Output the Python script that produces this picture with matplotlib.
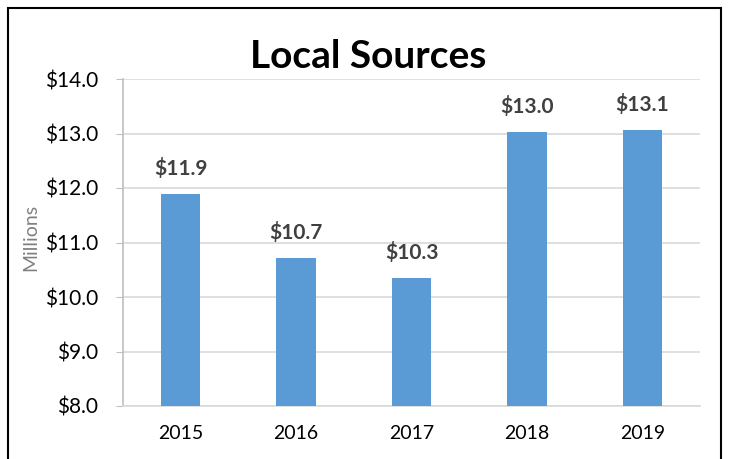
import matplotlib.pyplot as plt
from matplotlib.patches import Rectangle

# data
years = ["2015", "2016", "2017", "2018", "2019"]
values = [11.89, 10.71, 10.34, 13.03, 13.06]
labels = ["$11.9", "$10.7", "$10.3", "$13.0", "$13.1"]
yticks = [8, 9, 10, 11, 12, 13, 14]

plt.rcParams['font.family'] = ['Lato', 'DejaVu Sans']

fig = plt.figure(figsize=(7.29, 4.59), dpi=100)
ax = fig.add_axes([123/729, 1 - 406/459, (700-123)/729, (406-79)/459])

x = range(len(years))
ax.bar(x, values, width=0.34, color='#5B9BD5', zorder=3)

for i, (v, lab) in enumerate(zip(values, labels)):
    ax.text(i, v + 0.28, lab, ha='center', va='bottom', fontsize=15,
            fontweight='bold', color='#404040')

ax.set_ylim(8, 14)
ax.set_xlim(-0.5, len(years) - 0.5)
ax.set_yticks(yticks)
ax.set_yticklabels([f"${t:.1f}" for t in yticks], fontsize=15)
ax.set_xticks(list(x))
ax.set_xticklabels(years, fontsize=14)
ax.grid(axis='y', color='#D9D9D9', linewidth=1.2, zorder=0)

for s in ['top', 'right']:
    ax.spines[s].set_visible(False)
ax.spines['left'].set_color('#BFBFBF')
ax.spines['bottom'].set_color('#D9D9D9')
ax.spines['left'].set_linewidth(1.2)
ax.spines['bottom'].set_linewidth(1.2)
ax.tick_params(axis='y', length=5, color='#BFBFBF', pad=13)
ax.tick_params(axis='x', length=0, pad=14)

ax.set_ylabel("Millions", fontsize=14, color='#808080')
ax.yaxis.set_label_coords(-0.146, 0.515)

fig.text(0.505, 1 - 56/459, "Local Sources", ha='center', va='center',
         fontsize=28, fontweight='bold', color='black')

# outer frame
fig.patches.append(Rectangle((8/729, -0.05), (721-8)/729, 1.05 - 8/459,
                             transform=fig.transFigure, fill=False,
                             edgecolor='black', linewidth=1.5))

fig.savefig("out.png", dpi=100)
